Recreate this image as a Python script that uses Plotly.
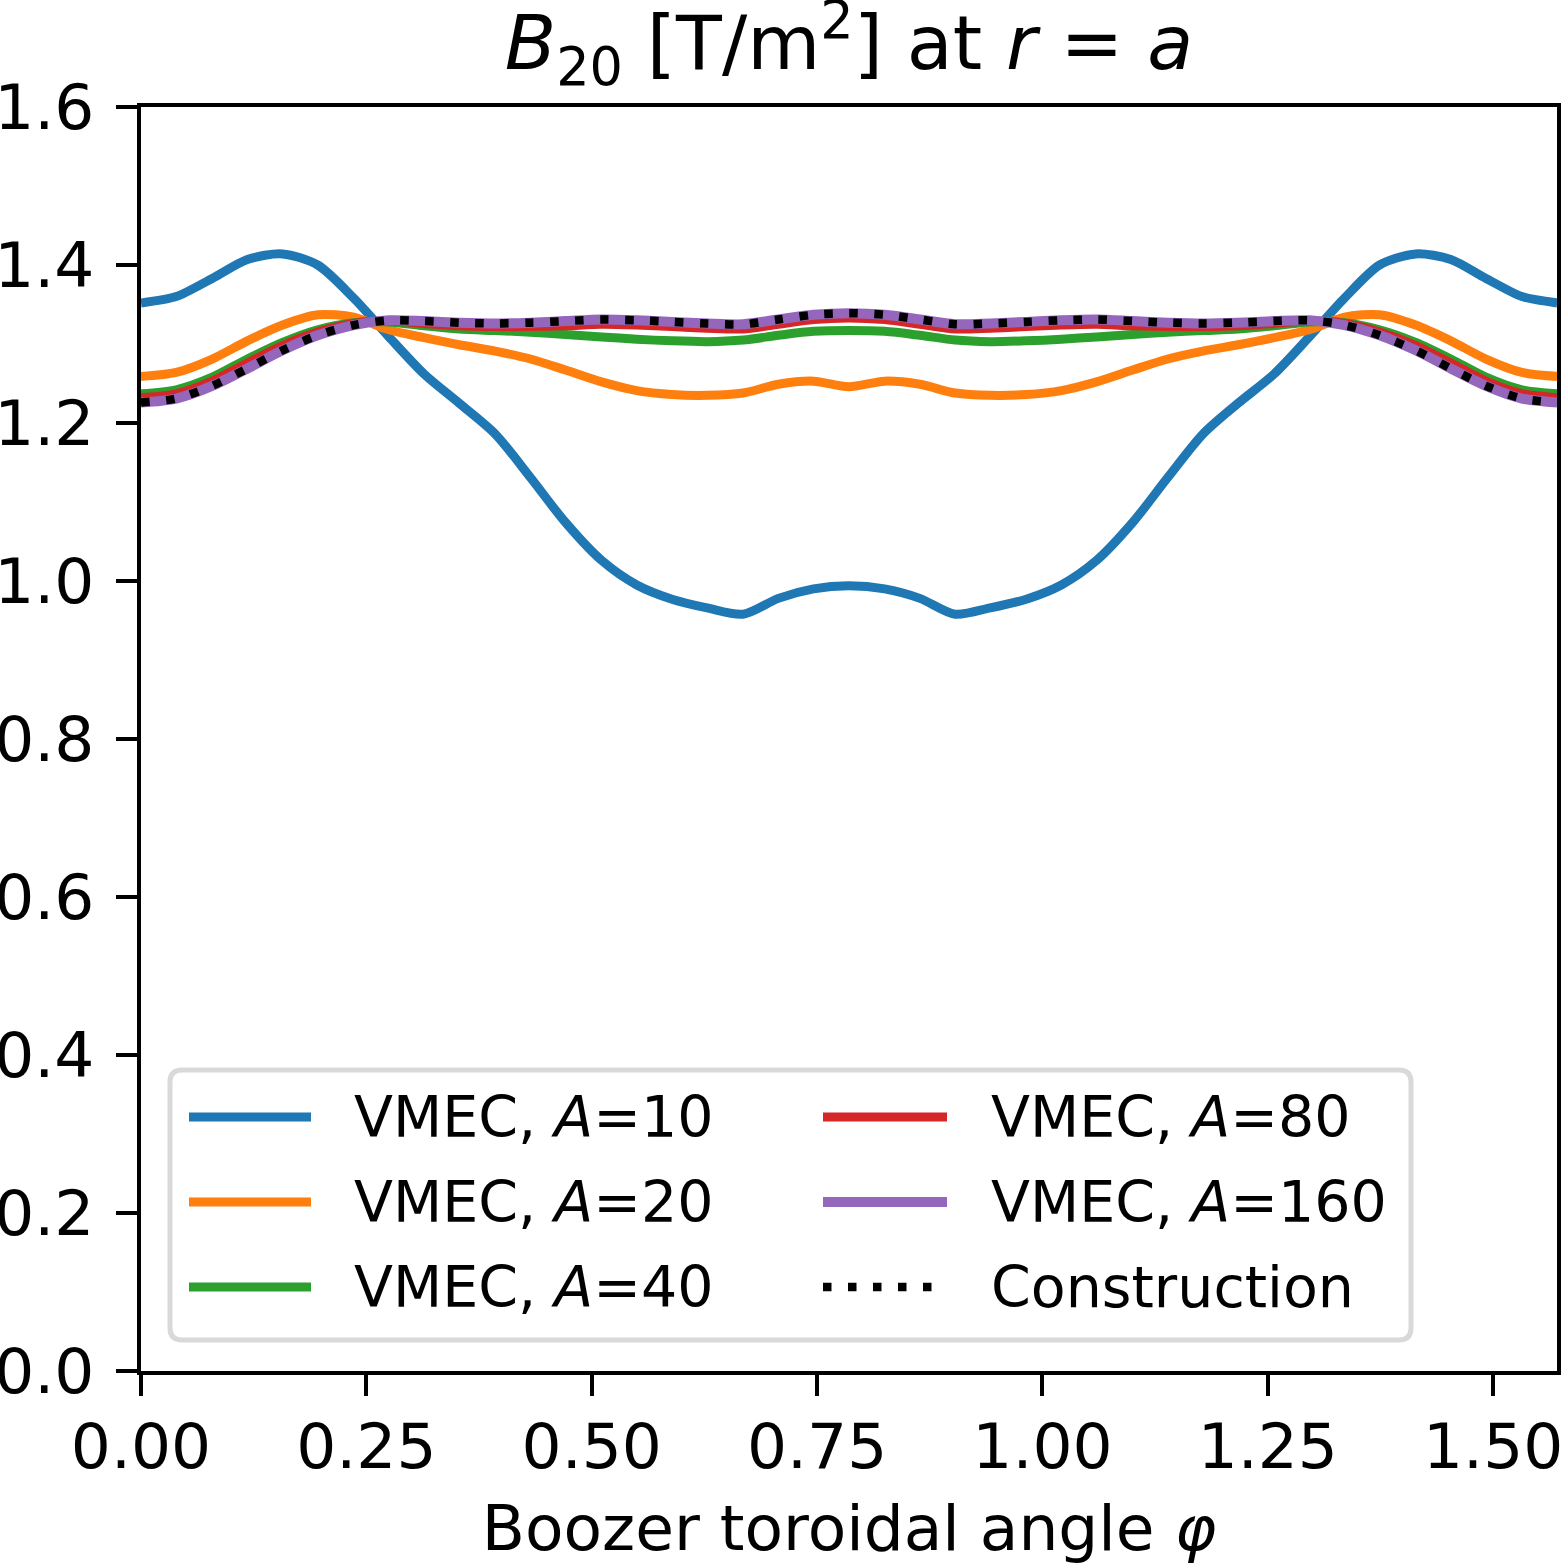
import plotly.graph_objects as go

# Boozer toroidal angle, one field period [0, pi/2]
phi = [0.000, 0.039, 0.079, 0.118, 0.157, 0.196, 0.236, 0.275, 0.314, 0.353,
       0.393, 0.432, 0.471, 0.511, 0.550, 0.589, 0.628, 0.668, 0.707, 0.746,
       0.785, 0.825, 0.864, 0.903, 0.942, 0.982, 1.021, 1.060, 1.100, 1.139,
       1.178, 1.217, 1.257, 1.296, 1.335, 1.374, 1.414, 1.453, 1.492, 1.532,
       1.571]

b20_a10 = [1.352, 1.360, 1.383, 1.407, 1.414, 1.400, 1.358, 1.309, 1.262, 1.225,
           1.186, 1.131, 1.074, 1.026, 0.995, 0.977, 0.966, 0.958, 0.978, 0.990,
           0.994, 0.990, 0.978, 0.958, 0.966, 0.977, 0.995, 1.026, 1.074, 1.131,
           1.186, 1.225, 1.262, 1.309, 1.358, 1.400, 1.414, 1.407, 1.383, 1.360,
           1.352]

b20_a20 = [1.259, 1.264, 1.281, 1.304, 1.324, 1.337, 1.334, 1.318, 1.308, 1.299,
           1.291, 1.281, 1.267, 1.252, 1.241, 1.236, 1.235, 1.238, 1.249, 1.253,
           1.246, 1.253, 1.249, 1.238, 1.235, 1.236, 1.241, 1.252, 1.267, 1.281,
           1.291, 1.299, 1.308, 1.318, 1.334, 1.337, 1.324, 1.304, 1.281, 1.264,
           1.259]

b20_a40 = [1.237, 1.242, 1.258, 1.281, 1.302, 1.318, 1.327, 1.328, 1.323, 1.319,
           1.317, 1.315, 1.312, 1.309, 1.306, 1.304, 1.303, 1.305, 1.311, 1.316,
           1.317, 1.316, 1.311, 1.305, 1.303, 1.304, 1.306, 1.309, 1.312, 1.315,
           1.317, 1.319, 1.323, 1.328, 1.327, 1.318, 1.302, 1.281, 1.258, 1.242,
           1.237]

b20_a80 = [1.232, 1.237, 1.253, 1.276, 1.298, 1.315, 1.326, 1.329, 1.326, 1.323,
           1.322, 1.322, 1.323, 1.325, 1.324, 1.322, 1.320, 1.319, 1.325, 1.331,
           1.333, 1.331, 1.325, 1.319, 1.320, 1.322, 1.324, 1.325, 1.323, 1.322,
           1.322, 1.323, 1.326, 1.329, 1.326, 1.315, 1.298, 1.276, 1.253, 1.237,
           1.232]

b20_a160 = [1.226, 1.231, 1.247, 1.269, 1.292, 1.311, 1.324, 1.330, 1.329, 1.327,
            1.326, 1.327, 1.329, 1.331, 1.330, 1.328, 1.326, 1.325, 1.331, 1.337,
            1.339, 1.337, 1.331, 1.325, 1.326, 1.328, 1.330, 1.331, 1.329, 1.327,
            1.326, 1.327, 1.329, 1.330, 1.324, 1.311, 1.292, 1.269, 1.247, 1.231,
            1.226]

b20_construction = [1.226, 1.231, 1.247, 1.269, 1.292, 1.311, 1.324, 1.330, 1.329, 1.327,
                    1.326, 1.327, 1.329, 1.331, 1.330, 1.328, 1.326, 1.325, 1.331, 1.337,
                    1.339, 1.337, 1.331, 1.325, 1.326, 1.328, 1.330, 1.331, 1.329, 1.327,
                    1.326, 1.327, 1.329, 1.330, 1.324, 1.311, 1.292, 1.269, 1.247, 1.231,
                    1.226]

labels = ["VMEC, <i>A</i>=10", "VMEC, <i>A</i>=20", "VMEC, <i>A</i>=40",
          "VMEC, <i>A</i>=80", "VMEC, <i>A</i>=160", "Construction"]
series = [b20_a10, b20_a20, b20_a40, b20_a80, b20_a160, b20_construction]
colors = ["#1f77b4", "#ff7f0e", "#2ca02c", "#d62728", "#9467bd", "black"]
dashes = ["solid", "solid", "solid", "solid", "solid", "8.5px,16.5px"]
widths = [9, 9, 9, 9, 10, 8.5]

FONT = "DejaVu Sans"
W, H = 1561, 1565
L, R, T, B = 141, 4, 107, 194

fig = go.Figure()
for name, y, c, d, w in zip(labels, series, colors, dashes, widths):
    fig.add_trace(go.Scatter(x=phi, y=y, mode="lines", name=name, showlegend=False,
                             line=dict(color=c, width=w, dash=d, shape="spline", smoothing=0.8)))

# pixel -> plot-domain helpers for the legend box
pw, ph = W - L - R, H - T - B
def px(x): return (x - L) / pw
def py(y): return (H - B - y) / ph

# rounded legend frame
x0, x1, y0, y1 = px(170), px(1411), py(1340), py(1070)
rx, ry = 12 / pw, 12 / ph
frame = (f"M{x0+rx},{y0} L{x1-rx},{y0} Q{x1},{y0} {x1},{y0+ry} L{x1},{y1-ry} "
         f"Q{x1},{y1} {x1-rx},{y1} L{x0+rx},{y1} Q{x0},{y1} {x0},{y1-ry} "
         f"L{x0},{y0+ry} Q{x0},{y0} {x0+rx},{y0} Z")
fig.add_shape(type="path", path=frame, xref="x domain", yref="y domain",
              line=dict(color="#d9d9d9", width=5), fillcolor="rgba(255,255,255,0.8)", layer="above")

rows = [1117, 1202, 1287]
cols = [(189, 311, 352), (823, 947, 989)]
for i, (name, c, d, w) in enumerate(zip(labels, colors, dashes, widths)):
    lx0, lx1, tx = cols[i // 3]
    yy = py(rows[i % 3])
    fig.add_shape(type="line", xref="x domain", yref="y domain", x0=px(lx0), x1=px(lx1),
                  y0=yy, y1=yy, line=dict(color=c, width=w, dash=d), layer="above")
    fig.add_annotation(text=name, xref="x domain", yref="y domain", x=px(tx), y=yy,
                       xanchor="left", yanchor="middle", showarrow=False,
                       font=dict(family=FONT, size=57, color="black"))

axis_common = dict(showline=True, mirror=True, linecolor="black", linewidth=4,
                   ticks="outside", ticklen=21, tickwidth=4, tickcolor="black",
                   showgrid=False, zeroline=False, automargin=False,
                   ticklabeloverflow="allow",
                   tickfont=dict(family=FONT, size=63, color="black"))

fig.update_xaxes(range=[0, 1.5708], tickvals=[0, 0.25, 0.5, 0.75, 1.0, 1.25, 1.5],
                 tickformat=".2f", ticklabelstandoff=-4,
                 title=dict(text="Boozer toroidal angle <i>φ</i>",
                            font=dict(family=FONT, size=63, color="black"), standoff=26),
                 **axis_common)
fig.update_yaxes(range=[0, 1.6], dtick=0.2, tickformat=".1f", ticklabelstandoff=9,
                 **axis_common)

fig.update_layout(
    width=W, height=H,
    margin=dict(l=L, r=R, t=T, b=B),
    plot_bgcolor="white", paper_bgcolor="white",
    title=dict(text="<i>B</i><sub>20</sub> [T/m<sup>2</sup>] at <i>r</i> = <i>a</i>",
               x=0.5, xref="paper", y=1 - 43 / H, yref="container", yanchor="middle",
               font=dict(family=FONT, size=75, color="black")),
    font=dict(family=FONT, color="black"),
)

# page body has a default 8px margin; drop it so the figure sits at the corner
fig.write_html("out.html", config={"displayModeBar": False},
               post_script="document.body.style.margin='0';")
